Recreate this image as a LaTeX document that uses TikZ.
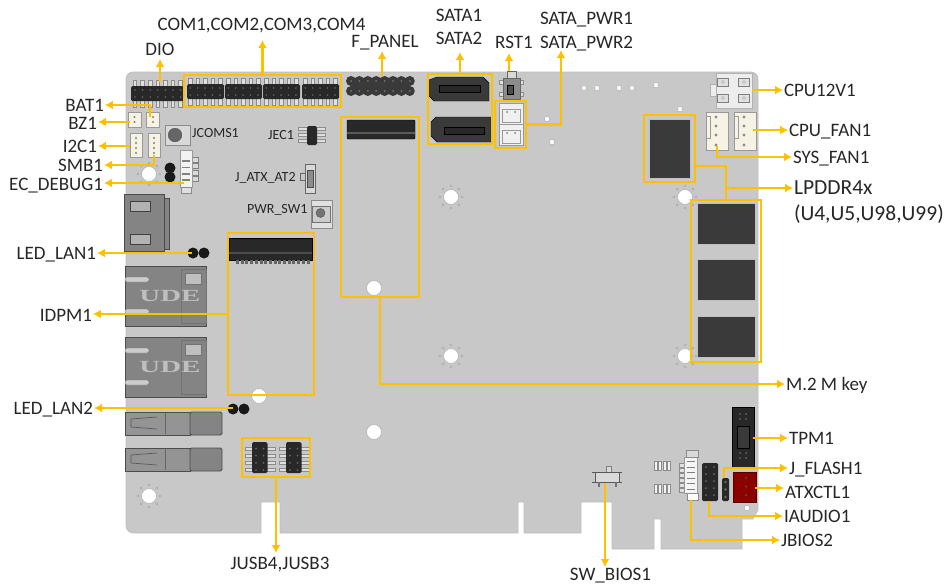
\documentclass[tikz,border=0pt]{standalone}
\usepackage{fontspec}
\setmainfont{Carlito}
\newfontfamily\logofont{Liberation Serif}
\usetikzlibrary{arrows.meta}
\definecolor{boardgray}{RGB}{200,200,200}
\definecolor{markamber}{RGB}{255,192,0}
\definecolor{chipdark}{RGB}{58,58,58}
\definecolor{pindark}{RGB}{40,40,40}
\definecolor{portgray}{RGB}{132,132,132}
\definecolor{wafer}{RGB}{246,243,228}
\begin{document}
\begin{tikzpicture}[x=1pt,y=-1pt]
	\tikzstyle{every node}=[font=\fontsize{19}{21}\selectfont, text=black!85]
	\tikzstyle{lbl}=[inner sep=0pt, outer sep=1pt, text height=12pt, text depth=0pt]
	\tikzstyle{small lbl}=[inner sep=0pt, font=\fontsize{14}{15}\selectfont, text height=9pt, text depth=0pt]
	\tikzstyle{mark box}=[draw=markamber, line width=2.8pt, inner sep=0pt, outer sep=0pt]
	\tikzstyle{callout}=[draw=markamber, line width=2.6pt, -{Latex[length=8pt,width=9pt]}]
	\tikzstyle{chip}=[fill=chipdark, draw=black!25, line width=0.5pt]
	\tikzstyle{header}=[fill=pindark, rounded corners=1.5]
	\tikzstyle{stub}=[fill=black!12, draw=black!45, line width=0.3pt]
	\tikzstyle{wafer box}=[fill=wafer, draw=black!40, line width=0.6pt]
	\tikzstyle{port}=[fill=portgray, draw=black!70, line width=0.9pt]
	\tikzstyle{hole}=[fill=white, draw=black!30, line width=0.6pt]
	\useasboundingbox (0,0) rectangle (945,587);
	% board outline
	\draw [ fill=boardgray, draw=black!25, line width=0.7pt ] (133,72) -- (751,72) .. controls (755,72) and (758,75) .. (758,79) -- (758,510) -- (753,519) -- (742,519) -- (742,549) -- (661,549) -- (661,519) -- (654,519) -- (654,549) -- (612,549) -- (612,502) -- (581,502) -- (581,533) -- (524,533) -- (524,502) -- (518,502) -- (518,533) -- (280,533) -- (280,502) -- (261,502) -- (261,533) -- (134,533) .. controls (129,533) and (126,530) .. (126,525) -- (126,79) .. controls (126,75) and (129,72) .. (133,72) -- cycle;
	% mounting holes
	\foreach \hx/\hy in {149/174, 149/496, 451/197, 451/356, 685/197, 685/356} {
		\foreach \ang in {0,45,...,315} \draw [ draw=black!35, line width=0.4pt ] ([shift={(\ang:11)}]\hx,\hy) circle (1.2);
		\draw [hole] (\hx,\hy) circle (7.5);
	}
	\foreach \hx/\hy in {374/288, 374/432, 259/396} \draw [hole] (\hx,\hy) circle (7.5);
	\foreach \hx/\hy in {584/88, 597/88, 619/88, 632/88, 656/85, 680/109, 547/119, 552/142, 747/508} \draw [hole] (\hx,\hy) circle (2.8);
	% DIO and COM headers
	\foreach \i in {0,...,6} \draw [stub] (133+7.6*\i,80) rectangle +(3.6,27);
	\fill [header] (131,86) rectangle (184,101);
	\foreach \bx in {187,225,263,302} {
		\foreach \i in {0,...,4} \draw [stub] (\bx+1.5+7.4*\i,78) rectangle +(3.6,27);
		\fill [header] (\bx,84) rectangle +(37,15);
		\foreach \i in {0,...,4} \foreach \ry in {88,95} \fill [black!60] (\bx+3.3+7.4*\i,\ry) circle (0.9);
	}
	\foreach \i in {0,...,6} \foreach \ry in {90,97} \fill [black!60] (135+7.6*\i,\ry) circle (0.9);
	% F_PANEL header
	\fill [chipdark] (351,78) rectangle (410,94);
	\foreach \i in {0,...,7} \foreach \ry in {81,91} {
		\fill [chipdark] (351+8.4*\i,\ry) circle (5);
		\fill [black!55] (351+8.4*\i,\ry) circle (1);
	}
	% SATA
	\draw [ fill=chipdark, draw=black ] (429,80) -- (437,77) -- (483,77) -- (489,83) -- (489,101) -- (434,101) -- (429,96) -- cycle;
	\draw [ fill=pindark, draw=black ] (439,85) -- (480,85) -- (480,92) -- (439,92) -- cycle;
	\draw [ fill=chipdark, draw=black ] (431,122) -- (436,117) -- (491,117) -- (491,142) -- (437,142) -- (431,136) -- cycle;
	\draw [ fill=pindark, draw=black ] (444,127) -- (484,127) -- (484,134) -- (444,134) -- cycle;
	% RST1
	\draw [ fill=black!12, draw=black!45 ] (499,80) rectangle +(24,4);
	\draw [ fill=black!12, draw=black!45 ] (499,92) rectangle +(24,4);
	\draw [ fill=black!45, draw=black!60 ] (503,78) rectangle (520,99);
	\draw [ fill=black!15, draw=black!60 ] (507,71) rectangle (516,78);
	\draw [ fill=black!70 ] (507,85) rectangle (513,94);
	% SATA_PWR
	\foreach \ty in {103,124} {
		\draw [wafer box, fill=black!6] (499,\ty) rectangle +(24,21.5);
		\draw [ draw=black!40, line width=0.5pt ] (502,\ty+6) rectangle +(18,13);
		\fill [black!50] (507,\ty+9) circle (1);
		\fill [black!50] (515,\ty+9) circle (1);
	}
	% M.2 M key slot and IDPM slot
	\draw [ fill=pindark, rounded corners=1 ] (347,120) rectangle (415,139);
	\fill [black!65] (347,132) rectangle (415,134);
	\draw [ fill=pindark ] (229,238) rectangle (312,260);
	\fill [black!70] (229,252) rectangle (312,253.5);
	\foreach \i in {0,...,15} \fill [black!60] (236+4.7*\i,260) rectangle +(3,3.5);
	% memory
	\draw [chip] (649,119) rectangle (690,178);
	\foreach \ty in {203,259,316} \draw [chip] (697,\ty) rectangle +(58,41);
	% CPU12V1 and fans
	\draw [ fill=black!7, draw=black!30 ] (710,84) rectangle (716,96);
	\draw [ fill=black!7, draw=black!30 ] (716,73) rectangle (752,108);
	\foreach \px/\py in {723/82, 744/82, 723/98, 744/98} {
		\draw [ fill=black!12, draw=black!50 ] (\px-5.5,\py-4) rectangle +(11,8);
		\draw [ draw=black!50, line width=0.3pt ] (\px,\py) circle (1.5);
	}
	\foreach \fx in {706,734} {
		\draw [wafer box] (\fx,112) rectangle +(22,38);
		\draw [ draw=black!40, line width=0.4pt ] (\fx,116) rectangle +(4,22);
		\foreach \py in {117,126,135,145} \fill [black!45] (\fx+10,\py) circle (1.6);
	}
	% left side ports
	\draw [port] (124,194) rectangle (164,251);
	\draw [port] (164,198) rectangle (169,249);
	\foreach \py in {201,234} \draw [ fill=black!30, draw=black!75 ] (130,\py) rectangle +(20,10);
	\foreach \py in {266,337} {
		\draw [port] (125,\py) rectangle (206,\py+60);
		\draw [ draw=black!55, line width=0.5pt ] (181,\py+3) rectangle (206,\py+57);
		\draw [ fill=black!20, draw=black!55, rounded corners=2 ] (125,\py+11) rectangle +(24,5);
		\draw [ fill=black!20, draw=black!55, rounded corners=2 ] (125,\py+43) rectangle +(24,5);
		\draw [ fill=black!25, draw=black!55 ] (185,\py+7) rectangle +(16,11);
		\node (udeMark\py) [inner sep=0pt, xscale=1.7, font=\logofont\bfseries\fontsize{17}{18}\selectfont, text=black!25] at (170,\py+30) {UDE};
	}
	\foreach \py in {412,448} {
		\draw [port, fill=black!42] (125,\py) rectangle (190,\py+23);
		\draw [port, rounded corners=1.5] (190,\py) rectangle (222,\py+23);
		\draw [ draw=black!60, line width=0.5pt ] (165,\py+1) -- (165,\py+22);
		\draw [ draw=black!65, line width=0.7pt ] (131,\py+7) -- (157,\py+5) (131,\py+15) -- (157,\py+17) (131,\py+7) -- (131,\py+15);
	}
	\foreach \px/\py in {193/253, 204/253, 233/409, 244/409, 170/168, 170/177} \fill [black!90] (\px,\py) circle (5.5);
	% small wafers near BAT1
	\draw [wafer box] (146,112) rectangle (159,127);
	\draw [wafer box] (128,112) rectangle (141,127);
	\draw [wafer box] (130,133) rectangle (142,157);
	\draw [wafer box] (148,133) rectangle (160,157);
	\foreach \px in {134.5,153} \foreach \py in {117,122} \fill [black!50] (\px,\py) circle (1.2);
	\foreach \px in {136,154} \foreach \py in {138,143,148,153} \fill [black!50] (\px,\py) circle (1.2);
	% JCOMS1, EC_DEBUG1
	\draw [ fill=black!15, draw=black!45 ] (165,125) rectangle (190,145);
	\draw [ fill=black!60, draw=black!70 ] (175,135) circle (6.8);
	\foreach \py in {157,163.5,170,176.5} \draw [ fill=black!15, draw=black!50 ] (192,\py) rectangle +(6,5);
	\draw [wafer box, fill=black!5] (180,150) rectangle (192,187);
	\foreach \py in {160,166.5,173,179} \fill [black!50] (182,\py) rectangle +(8,1.5);
	\draw [ fill=black!12, draw=black!45 ] (181,187) rectangle (191,193);
	% JEC1, J_ATX_AT2, PWR_SW1
	\foreach \py in {128,134,140} \draw [stub] (298,\py-1) rectangle (325,\py+2);
	\fill [header] (307,126) rectangle (317,145);
	\draw [ fill=black!15, draw=black!60 ] (305,164) rectangle (315,193);
	\draw [ fill=black!45, draw=black!70 ] (307,170) rectangle (313,187);
	\draw [ draw=black!60, line width=0.5pt ] (300,173) rectangle (305,180);
	\draw [ fill=black!12, draw=black!45 ] (311,200) rectangle (332,228);
	\draw [ fill=black!20, draw=black!55 ] (312,206) rectangle (330,222);
	\draw [ fill=black!55, draw=black!70 ] (320.5,213) circle (4.5);
	% JUSB4, JUSB3
	\foreach \bx in {252,286} {
		\foreach \i in {0,...,3} \draw [stub] (\bx-7,447+7.2*\i) rectangle +(30,3);
		\fill [header] (\bx,442) rectangle +(15.5,31);
		\foreach \i in {0,...,3} \foreach \dx in {4,11.5} \fill [black!60] (\bx+\dx,448.5+7.2*\i) circle (1);
	}
	% TPM1, audio and flash headers, ATXCTL1
	\draw [ fill=pindark ] (732,407) rectangle (754,467);
	\draw [ fill=chipdark, draw=black ] (737,426) rectangle (749,448);
	\foreach \px in {740,746} \foreach \py in {414,419,453,458} \fill [black!60] (\px,\py) circle (1);
	\fill [header] (702,463) rectangle (718,501);
	\foreach \i in {0,...,4} \foreach \px in {706,714} \fill [black!60] (\px,467+7*\i) circle (1);
	\fill [header] (722,478) rectangle (729,501);
	\foreach \i in {0,...,2} \fill [black!60] (725.5,482+7.5*\i) circle (1.3);
	\draw [ fill=red!55!black, draw=red!35!black ] (733,472) rectangle (756,502);
	\foreach \i in {0,...,2} \fill [black!70] (746,478+8.5*\i) circle (1.3);
	% JBIOS2, SW_BIOS1
	\foreach \py in {461,484} \foreach \i in {0,...,3} \draw [stub, fill=black!5] (654+4.5*\i,\py) rectangle +(2.8,9);
	\foreach \i in {0,...,5} \draw [stub] (679,463+5*\i) rectangle +(5,4);
	\draw [wafer box, fill=black!4] (684,457) rectangle (697,493);
	\foreach \i in {0,...,5} \fill [black!50] (687,461+5.5*\i) rectangle +(8,1.4);
	\draw [ fill=black!15, draw=black!45 ] (686,450) rectangle (698,457);
	\draw [ fill=white, draw=black!45 ] (687,493) rectangle (698,500);
	\draw [ fill=black!15, draw=black!50 ] (606,466) rectangle (611,472);
	\draw [ fill=black!15, draw=black!65 ] (595,472) rectangle (619,482);
	\draw [ draw=black!65, line width=0.7pt ] (592,472) -- (622,472) (592,482) -- (622,482);
	\foreach \px in {598,615} \fill [black!55] (\px,482) rectangle +(2,5);
	% highlighted boxes
	\node [mark box, minimum width=157pt, minimum height=32pt] (comBox) at (262.5,91) {};
	\node [mark box, minimum width=64pt, minimum height=70pt] (sataBox) at (460,109) {};
	\node [mark box, minimum width=31pt, minimum height=47pt] (sataPwrBox) at (510.5,124.5) {};
	\node [mark box, minimum width=78pt, minimum height=180pt] (mTwoBox) at (380,207) {};
	\node [mark box, minimum width=86pt, minimum height=162pt] (idpmBox) at (271,314) {};
	\node [mark box, minimum width=68pt, minimum height=39pt] (jusbBox) at (276,457.5) {};
	\node [mark box, minimum width=51pt, minimum height=67pt] (memTopBox) at (669.5,148.5) {};
	\node [mark box, minimum width=70pt, minimum height=162pt] (memBox) at (726,281) {};
	% labels
	\node [lbl] (comLbl) at (261.5,24) {COM1,COM2,COM3,COM4};
	\node [lbl] (dioLbl) at (160,49) {DIO};
	\node [lbl] (panelLbl) at (385,41) {F\_PANEL};
	\node [lbl] (sataOneLbl) at (459,15) {SATA1};
	\node [lbl] (sataLbl) at (459,38) {SATA2};
	\node [lbl] (rstLbl) at (514,42) {RST1};
	\node [lbl] (sataPwrOneLbl) at (586.5,18) {SATA\_PWR1};
	\node [lbl] (sataPwrLbl) at (586.5,42) {SATA\_PWR2};
	\node [lbl, anchor=east] (batLbl) at (105,105) {BAT1};
	\node [lbl, anchor=east] (bzLbl) at (98,123) {BZ1};
	\node [lbl, anchor=east] (iicLbl) at (98,146) {I2C1};
	\node [lbl, anchor=east] (smbLbl) at (104,165) {SMB1};
	\node [lbl, anchor=east] (ecLbl) at (104,184) {EC\_DEBUG1};
	\node [lbl, anchor=east] (ledOneLbl) at (97,253) {LED\_LAN1};
	\node [lbl, anchor=east] (idpmLbl) at (93,315) {IDPM1};
	\node [lbl, anchor=east] (ledTwoLbl) at (94,408) {LED\_LAN2};
	\node [lbl] (jusbLbl) at (280,563) {JUSB4,JUSB3};
	\node [lbl] (swLbl) at (610.5,574) {SW\_BIOS1};
	\node [lbl, anchor=west] (cpuPwrLbl) at (783,90) {CPU12V1};
	\node [lbl, anchor=west] (cpuFanLbl) at (788,130) {CPU\_FAN1};
	\node [lbl, anchor=west] (sysFanLbl) at (792,157) {SYS\_FAN1};
	\node [lbl, anchor=west, font=\fontsize{21.5}{23}\selectfont] (memLbl) at (793,188) {LPDDR4x};
	\node [lbl, anchor=west, font=\fontsize{21.5}{23}\selectfont] (memListLbl) at (793,214) {(U4,U5,U98,U99)};
	\node [lbl, anchor=west] (mKeyLbl) at (785,384) {M.2 M key};
	\node [lbl, anchor=west] (tpmLbl) at (788,438) {TPM1};
	\node [lbl, anchor=west] (flashLbl) at (788,468) {J\_FLASH1};
	\node [lbl, anchor=west] (atxLbl) at (784,492) {ATXCTL1};
	\node [lbl, anchor=west] (audioLbl) at (783,516) {IAUDIO1};
	\node [lbl, anchor=west] (biosLbl) at (780,540) {JBIOS2};
	\node [small lbl, anchor=west] (jcomLbl) at (192,133) {JCOMS1};
	\node [small lbl, anchor=west] (jecLbl) at (268,135) {JEC1};
	\node [small lbl, anchor=west] (atxJmpLbl) at (235,177) {J\_ATX\_AT2};
	\node [small lbl, anchor=west] (pwrLbl) at (247,209) {PWR\_SW1};
	% connector start points
	\coordinate (dioPin) at (160,82);
	\coordinate (rstPin) at (509,71);
	\coordinate (panelPin) at (382,76);
	\coordinate (batPin) at (150,117);
	\coordinate (bzPin) at (130,122);
	\coordinate (iicPin) at (130,146);
	\coordinate (smbPin) at (154,155);
	\coordinate (ecPin) at (184,183);
	\coordinate (ledOnePin) at (192,253);
	\coordinate (ledTwoPin) at (233,408);
	\coordinate (cpuPwrPin) at (752,90);
	\coordinate (cpuFanPin) at (753,130);
	\coordinate (sysFanPin) at (717,146);
	\coordinate (tpmPin) at (753,438);
	\coordinate (flashPin) at (724,478);
	\coordinate (atxPin) at (755,488);
	\coordinate (audioPin) at (709,501);
	\coordinate (biosPin) at (691,500);
	\coordinate (swPin) at (605,483);
	\coordinate (memBend) at (726,166);
	\coordinate (sataPwrTip) at (561,50);
	% connectors
	\draw [callout, shorten >=9pt] (comBox.north) -- (comBox.north |- comLbl.south);
	\draw [callout, shorten >=3pt] (dioPin) -- (dioLbl.south);
	\draw [callout, shorten >=3pt] (panelPin) -- (panelPin |- panelLbl.south);
	\draw [callout, shorten >=7pt] (sataBox.north) -- (sataBox.north |- sataLbl.south);
	\draw [callout, shorten >=4pt] (rstPin) -- (rstPin |- rstLbl.south);
	\draw [callout] (sataPwrBox.east) -| (sataPwrTip);
	\draw [callout] (batPin) |- (batLbl.east);
	\draw [callout] (bzPin) -- (bzPin -| bzLbl.east);
	\draw [callout] (iicPin) -- (iicPin -| iicLbl.east);
	\draw [callout] (smbPin) |- (smbLbl.east);
	\draw [callout] (ecPin) -- (ecPin -| ecLbl.east);
	\draw [callout] (ledOnePin) -- (ledOnePin -| ledOneLbl.east);
	\draw [callout] (idpmBox.west) -- (idpmBox.west -| idpmLbl.east);
	\draw [callout] (ledTwoPin) -- (ledTwoPin -| ledTwoLbl.east);
	\draw [callout, shorten >=3pt] (jusbBox.south) -- (jusbBox.south |- jusbLbl.north);
	\draw [callout] (swPin) -- (swPin |- swLbl.north);
	\draw [callout] (mTwoBox.south) |- (mKeyLbl.west);
	\draw [callout] (cpuPwrPin) -- (cpuPwrLbl.west);
	\draw [callout] (cpuFanPin) -- (cpuFanLbl.west);
	\draw [callout] (sysFanPin) |- (sysFanLbl.west);
	\draw [draw=markamber, line width=2.6pt] (memTopBox.east |- memBend) -- (memBend) -- (memBox.north);
	\draw [callout] (memBox.north |- memLbl.west) -- (memLbl.west);
	\draw [callout] (tpmPin) -- (tpmLbl.west);
	\draw [callout] (flashPin) |- (flashLbl.west);
	\draw [callout] (atxPin) -- (atxPin -| atxLbl.west);
	\draw [callout] (audioPin) |- (audioLbl.west);
	\draw [callout] (biosPin) |- (biosLbl.west);
\end{tikzpicture}
\end{document}
